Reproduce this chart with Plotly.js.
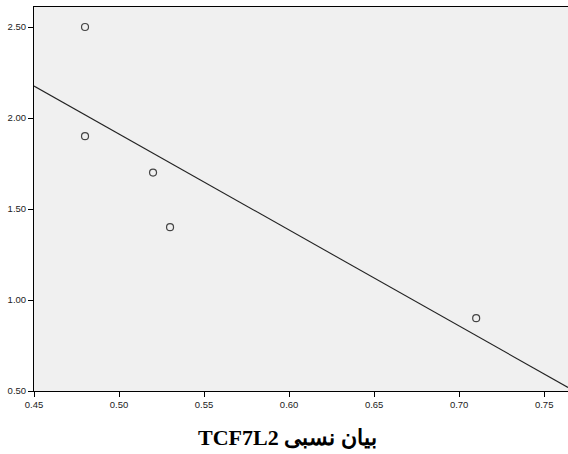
<!DOCTYPE html>
<html>
<head>
<meta charset="utf-8">
<script src="https://cdn.plot.ly/plotly-3.0.1.min.js"></script>
<style>html,body{margin:0;padding:0;background:#fff;}#chart{width:568px;height:454px;}</style>
</head>
<body>
<div id="chart"></div>
<script>
// Data
const xValues = [0.48, 0.48, 0.52, 0.53, 0.71];
const yValues = [2.50, 1.90, 1.70, 1.40, 0.90];
const xTickVals = [0.45, 0.50, 0.55, 0.60, 0.65, 0.70, 0.75];
const yTickVals = [0.50, 1.00, 1.50, 2.00, 2.50];
const xAxisTitle = "TCF7L2 بیان نسبی";

const xRange = [0.45, 0.764];
const yRange = [0.50, 2.61];

// least-squares fit line
const n = xValues.length;
const mx = xValues.reduce((a, b) => a + b, 0) / n;
const my = yValues.reduce((a, b) => a + b, 0) / n;
let sxy = 0, sxx = 0;
for (let i = 0; i < n; i++) { sxy += (xValues[i] - mx) * (yValues[i] - my); sxx += (xValues[i] - mx) ** 2; }
const slope = sxy / sxx, intercept = my - slope * mx;
const fitX = [xRange[0], xRange[1]];
const fitY = fitX.map(x => intercept + slope * x);

const traces = [
  { x: fitX, y: fitY, mode: 'lines', line: { color: '#222', width: 1.1 }, hoverinfo: 'skip', showlegend: false },
  { x: xValues, y: yValues, mode: 'markers', showlegend: false,
    marker: { symbol: 'circle-open', size: 7, color: '#444', line: { width: 1.2, color: '#444' } } }
];

const axisCommon = {
  showline: true, linecolor: '#000', linewidth: 1, mirror: true,
  ticks: 'outside', ticklen: 5, tickwidth: 1, tickcolor: '#000',
  showgrid: false, zeroline: false,
  tickfont: { family: 'Liberation Sans, Arial, sans-serif', size: 9.5, color: '#222' }
};

const layout = {
  width: 568, height: 454,
  margin: { l: 34, r: 0, t: 7, b: 63 },
  paper_bgcolor: '#fff', plot_bgcolor: '#f0f0f0',
  xaxis: Object.assign({}, axisCommon, {
    range: xRange, tickvals: xTickVals, ticktext: xTickVals.map(v => v.toFixed(2))
  }),
  yaxis: Object.assign({}, axisCommon, {
    range: yRange, tickvals: yTickVals, ticktext: yTickVals.map(v => v.toFixed(2))
  }),
  annotations: [{
    text: xAxisTitle, xref: 'paper', yref: 'paper', x: 0.474, y: -0.122,
    xanchor: 'center', yanchor: 'middle', showarrow: false,
    font: { family: 'Liberation Serif, Times New Roman, DejaVu Serif, serif', size: 22, color: '#000', weight: 'bold' }
  }]
};

Plotly.newPlot('chart', traces, layout, { displayModeBar: false, staticPlot: true });
</script>
</body>
</html>
